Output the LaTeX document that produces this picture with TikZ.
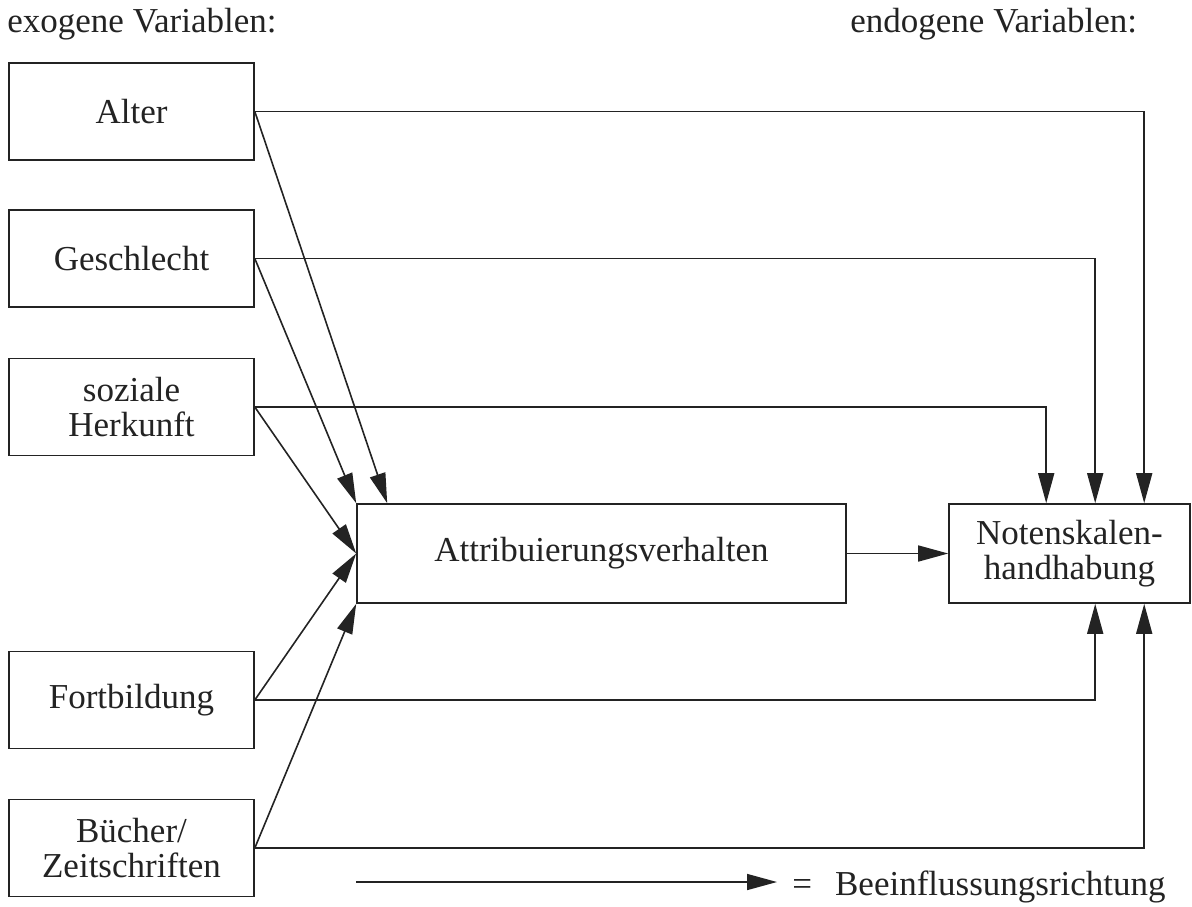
\documentclass[tikz,border=0pt]{standalone}
\usepackage{fontspec}
\setmainfont{Liberation Serif}
\usetikzlibrary{arrows.meta}
\definecolor{ink}{RGB}{35,35,35}
\begin{document}
\begin{tikzpicture}[x=0.5pt,y=-0.5pt,
  every node/.style={font=\fontsize{17.5}{17.5}\selectfont, text=ink},
  box/.style={draw=ink, line width=0.8pt, inner sep=0pt, align=center},
  lbox/.style={box, minimum width=122.5pt, minimum height=48.5pt},
  conn/.style={draw=ink, line width=0.8pt, -{Triangle[length=15pt,width=8pt]}}]
\useasboundingbox (0,0) rectangle (1192,906);

\node[anchor=base west, inner sep=0pt] (exo) at (7,32) {exogene Variablen:};
\node[anchor=base west, inner sep=0pt] (endo) at (850,32) {endogene Variablen:};

\node[lbox] (alter) at (131.5,111.5) {Alter};
\node[lbox] (geschl) at (131.5,258.5) {Geschlecht};
\node[lbox] (herk) at (131.5,407) {soziale\\Herkunft};
\node[lbox] (fort) at (131.5,700) {Fortbildung};
\node[lbox] (buch) at (131.5,848) {Bücher/\\Zeitschriften};
\node[box, minimum width=244.5pt, minimum height=49.5pt] (attr) at (601.5,553.5) {Attribuierungsverhalten};
\node[box, minimum width=120.5pt, minimum height=49.5pt] (noten) at (1069.5,553.5) {Notenskalen-\\handhabung};

\path (noten.north west) ++(98,0) coordinate (nt1) ++(49,0) coordinate (nt2) ++(49,0) coordinate (nt3);
\path (noten.south west) ++(147,0) coordinate (nb2) ++(49,0) coordinate (nb3);
\path (attr.north west) ++(31,0) coordinate (at1);

\draw[conn] (alter.east) -| (nt3);
\draw[conn] (geschl.east) -| (nt2);
\draw[conn] (herk.east) -| (nt1);
\draw[conn] (fort.east) -| (nb2);
\draw[conn] (buch.east) -| (nb3);

\draw[conn] (alter.east) -- (at1);
\draw[conn] (geschl.east) -- (attr.north west);
\draw[conn] (herk.east) -- (attr.west);
\draw[conn] (fort.east) -- (attr.west);
\draw[conn] (buch.east) -- (attr.south west);
\draw[conn] (attr.east) -- (noten.west);

\coordinate (l1) at (356,882);
\coordinate (l2) at (777,882);
\draw[conn] (l1) -- (l2);
\node[anchor=base west, inner sep=0pt] (leg) at (792,895) {=\hspace{11.5pt}Beeinflussungsrichtung};
\end{tikzpicture}
\end{document}
